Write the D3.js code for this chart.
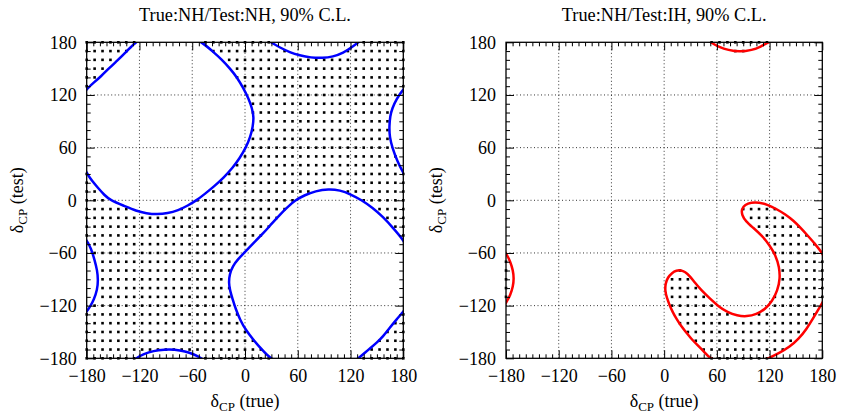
<!DOCTYPE html>
<html>
<head>
<meta charset="utf-8">
<script src="https://cdn.jsdelivr.net/npm/d3@7"></script>
<style>
  body { margin: 0; background: #fff; }
  svg { display: block; }
</style>
</head>
<body>
<svg id="chart" width="844" height="416"></svg>
<script>
// Axis ticks (degrees) shared by both panels
const tickValues = [-180, -120, -60, 0, 60, 120, 180];
const minorStepTrue = 7.5;
const minorStepTest = 10;

// Scan grid of the (true, test) plane used for the dotted region
const gridStepTrue = 9;
const gridStepTest = 10;

const panelTitles = ["True:NH/Test:NH, 90% C.L.", "True:NH/Test:IH, 90% C.L."];

// 90% C.L. contours, [δCP(true), δCP(test)] in degrees, unwrapped across the periodic edges
const nhnhContourA = [
  [-125, 180], [-115, 185], [-104, 188.5], [-92, 190], [-80, 190], [-68, 188], [-58, 184.5],
  [-49, 180], [-37, 170], [-26, 160], [-17, 150], [-9, 140], [-2, 128], [4, 116], [8, 105],
  [10, 95], [9, 84], [6, 72], [1, 60], [-6, 48], [-14, 37], [-24, 26], [-35, 16], [-46, 7],
  [-55, 0], [-65, -6], [-76, -11.5], [-88, -15], [-100, -16], [-112, -15], [-124, -12],
  [-137, -6.5], [-153, 0], [-160, 6], [-167, 14], [-174, 22], [-180, 31], [-187, 45],
  [-192.5, 60], [-195.5, 72], [-196, 84], [-195, 96], [-192.5, 105], [-188, 115],
  [-180, 127], [-172, 134], [-164, 141], [-155, 150], [-146, 158.5], [-135, 169]
];
const nhnhContourB = [
  [57, 0], [68, 6], [80, 10.5], [95, 13], [108, 11.5], [120, 7], [133, 0], [145, -8.5],
  [157, -19], [168, -31], [180, -45], [185, -55], [189, -68], [192, -80], [193, -91],
  [192, -102], [188.3, -113], [184, -121], [180, -127], [172, -136], [164, -146],
  [157, -155], [150, -162], [143, -168], [136, -174], [129, -180], [121, -186],
  [112, -192], [100, -196.5], [88, -198], [75, -197.5], [62, -195], [51, -191.5],
  [40, -186], [28.5, -180], [20, -171], [9.5, -159], [1, -148], [-5.7, -136],
  [-10.5, -124], [-14, -113], [-17, -103], [-18.5, -94], [-17.5, -84], [-14, -75],
  [-8, -67], [0, -59], [10, -48], [21, -37.5], [30, -27], [40, -16], [48, -8]
];
const nhihContour = [
  [52, -180], [45, -172], [38, -165], [31, -158], [25.6, -151], [19, -143], [14, -135],
  [10, -128], [6, -119], [3, -111], [1, -103], [1.5, -95], [4, -88], [9, -82.5], [14, -80],
  [19, -79.5], [24, -81.5], [29, -86], [35, -94], [42, -102], [52, -112], [62, -121],
  [72, -127.5], [83, -131.5], [94, -132.5], [105, -130], [115, -124], [123, -115],
  [129, -103], [132, -89], [131, -76], [127, -63], [120, -51], [111, -40], [101, -31],
  [93, -24], [88.5, -17], [88, -10], [92, -5], [99, -2.5], [108, -2.5], [118, -5],
  [128, -10], [138, -16], [147, -23], [156, -32], [164, -41], [172, -50], [180, -60],
  [185, -70], [188, -80], [189, -89], [188, -98], [185, -108], [180, -117], [171, -132],
  [162, -147], [153, -158], [143, -167], [131, -174], [118.5, -180], [110, -185],
  [100, -189], [86, -191], [73, -189], [62, -185]
];

const panels = [
  { title: panelTitles[0], left: 86.7, right: 403.3, color: "#0000ff",
    contours: [nhnhContourA, nhnhContourB], dotsInside: false },
  { title: panelTitles[1], left: 506, right: 822.3, color: "#ff0000",
    contours: [nhihContour], dotsInside: true }
];

const plotTop = 42.3, plotBottom = 358.3;
const fontFamily = '"Liberation Serif", "Times New Roman", serif';
const svg = d3.select("#chart");
const shifts = [-360, 0, 360];

function inRegion(pt, contours) {
  for (const poly of contours)
    for (const dx of shifts)
      for (const dy of shifts)
        if (d3.polygonContains(poly, [pt[0] - dx, pt[1] - dy])) return true;
  return false;
}

const minorTrue = d3.range(-180, 180 + 1e-9, minorStepTrue).filter(v => !tickValues.includes(v));
const minorTest = d3.range(-180, 180 + 1e-9, minorStepTest).filter(v => !tickValues.includes(v));
const scanTrue = d3.range(-180, 180 + 1e-9, gridStepTrue);
const scanTest = d3.range(-180, 180 + 1e-9, gridStepTest);

panels.forEach((p, i) => {
  const x = d3.scaleLinear().domain([-180, 180]).range([p.left, p.right]);
  const y = d3.scaleLinear().domain([-180, 180]).range([plotBottom, plotTop]);
  const g = svg.append("g");

  const clipId = "clip" + i;
  svg.append("clipPath").attr("id", clipId)
    .append("rect").attr("x", p.left).attr("y", plotTop)
    .attr("width", p.right - p.left).attr("height", plotBottom - plotTop);

  // Grid lines
  const grid = g.append("g").attr("stroke", "#000").attr("stroke-width", 0.8)
    .attr("stroke-dasharray", "1,2.5");
  grid.selectAll("line.v").data(tickValues.slice(1, -1)).join("line")
    .attr("x1", d => x(d)).attr("x2", d => x(d)).attr("y1", plotTop).attr("y2", plotBottom);
  grid.selectAll("line.h").data(tickValues.slice(1, -1)).join("line")
    .attr("y1", d => y(d)).attr("y2", d => y(d)).attr("x1", p.left).attr("x2", p.right);

  // Dotted region
  const pts = [];
  scanTrue.forEach(a => scanTest.forEach(b => {
    if (inRegion([a, b], p.contours) === p.dotsInside) pts.push([a, b]);
  }));
  g.append("g").selectAll("rect").data(pts).join("rect")
    .attr("x", d => x(d[0]) - 1.3).attr("y", d => y(d[1]) - 1.3)
    .attr("width", 2.6).attr("height", 2.6).attr("fill", "#000");

  // Contours, repeated across the periodic boundaries
  const line = d3.line().x(d => x(d[0])).y(d => y(d[1])).curve(d3.curveBasisClosed);
  const cg = g.append("g").attr("clip-path", `url(#${clipId})`);
  p.contours.forEach(poly => {
    shifts.forEach(dx => shifts.forEach(dy => {
      cg.append("path").datum(poly.map(d => [d[0] + dx, d[1] + dy]))
        .attr("d", line).attr("fill", "none")
        .attr("stroke", p.color).attr("stroke-width", 2.5);
    }));
  });

  // Axes with inward ticks on all four sides
  function styleAxis(sel) {
    sel.select(".domain").remove();
    sel.selectAll("line").attr("stroke", "#000").attr("stroke-width", 1);
    sel.attr("font-family", fontFamily).attr("font-size", 18);
    sel.selectAll("text").attr("fill", "#000");
  }
  g.append("g").attr("transform", `translate(0,${plotBottom})`)
    .call(d3.axisBottom(x).tickValues(tickValues).tickSize(-8).tickSizeOuter(0).tickPadding(11))
    .call(styleAxis);
  g.append("g").attr("transform", `translate(0,${plotBottom})`)
    .call(d3.axisBottom(x).tickValues(minorTrue).tickSize(-4).tickSizeOuter(0).tickFormat(""))
    .call(styleAxis);
  g.append("g").attr("transform", `translate(0,${plotTop})`)
    .call(d3.axisTop(x).tickValues(tickValues).tickSize(-8).tickSizeOuter(0).tickFormat(""))
    .call(styleAxis);
  g.append("g").attr("transform", `translate(0,${plotTop})`)
    .call(d3.axisTop(x).tickValues(minorTrue).tickSize(-4).tickSizeOuter(0).tickFormat(""))
    .call(styleAxis);
  g.append("g").attr("transform", `translate(${p.left},0)`)
    .call(d3.axisLeft(y).tickValues(tickValues).tickSize(-8).tickSizeOuter(0).tickPadding(10))
    .call(styleAxis);
  g.append("g").attr("transform", `translate(${p.left},0)`)
    .call(d3.axisLeft(y).tickValues(minorTest).tickSize(-4).tickSizeOuter(0).tickFormat(""))
    .call(styleAxis);
  g.append("g").attr("transform", `translate(${p.right},0)`)
    .call(d3.axisRight(y).tickValues(tickValues).tickSize(-8).tickSizeOuter(0).tickFormat(""))
    .call(styleAxis);
  g.append("g").attr("transform", `translate(${p.right},0)`)
    .call(d3.axisRight(y).tickValues(minorTest).tickSize(-4).tickSizeOuter(0).tickFormat(""))
    .call(styleAxis);

  // Frame
  g.append("rect").attr("x", p.left).attr("y", plotTop)
    .attr("width", p.right - p.left).attr("height", plotBottom - plotTop)
    .attr("fill", "none").attr("stroke", "#000").attr("stroke-width", 1.3);

  const cx = (p.left + p.right) / 2;

  // Title
  g.append("text").attr("x", cx).attr("y", 21).attr("text-anchor", "middle")
    .attr("font-family", fontFamily).attr("font-size", 18.3).text(p.title);

  // Axis titles
  const xl = g.append("text").attr("x", cx).attr("y", 407).attr("text-anchor", "middle")
    .attr("font-family", fontFamily).attr("font-size", 18);
  xl.append("tspan").text("δ");
  xl.append("tspan").attr("font-size", 13).attr("dy", 4).text("CP");
  xl.append("tspan").attr("dy", -4).text(" (true)");

  const yl = g.append("text")
    .attr("transform", `translate(${p.left - 64},${(plotTop + plotBottom) / 2}) rotate(-90)`)
    .attr("text-anchor", "middle").attr("font-family", fontFamily).attr("font-size", 18);
  yl.append("tspan").text("δ");
  yl.append("tspan").attr("font-size", 13).attr("dy", 4).text("CP");
  yl.append("tspan").attr("dy", -4).text(" (test)");
});
</script>
</body>
</html>
